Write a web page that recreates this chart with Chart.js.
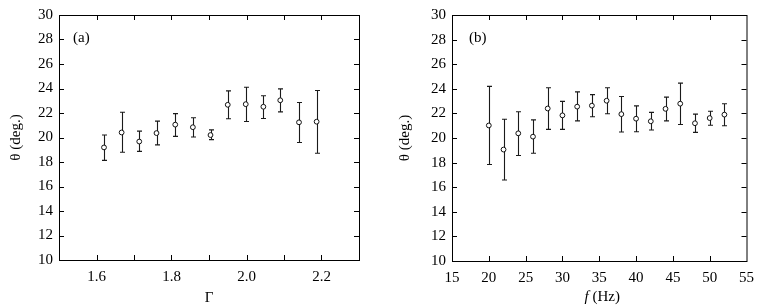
<!DOCTYPE html>
<html>
<head>
<meta charset="utf-8">
<script src="https://cdn.jsdelivr.net/npm/chart.js@4.4.1/dist/chart.umd.min.js"></script>
<style>
  html, body { margin: 0; padding: 0; background: #fff; }
  #wrap { display: flex; width: 762px; height: 307px; }
  .panel { position: relative; width: 381px; height: 307px; }
</style>
</head>
<body>
<div id="wrap">
  <div class="panel"><canvas id="chart-a"></canvas></div>
  <div class="panel"><canvas id="chart-b"></canvas></div>
</div>
<script>
// --- Data ---

// panel (a): angle vs Gamma
const gammaVals = [1.62, 1.667, 1.714, 1.76, 1.81, 1.857, 1.904, 1.95, 1.998, 2.045, 2.09, 2.14, 2.187];
const thetaA    = [19.19, 20.41, 19.67, 20.36, 21.05, 20.84, 20.2, 22.67, 22.72, 22.51, 23.04, 21.24, 21.29];
const thetaAHi  = [20.2, 22.06, 20.52, 21.34, 21.95, 21.61, 20.62, 23.81, 24.1, 23.41, 23.97, 22.86, 23.84];
const thetaALo  = [18.13, 18.79, 18.87, 19.4, 20.09, 20.04, 19.83, 21.53, 21.31, 21.55, 22.09, 19.59, 18.71];

// panel (b): angle vs frequency
const freqVals = [20, 22, 24, 26, 28, 30, 32, 34, 36, 38, 40, 42, 44, 46, 48, 50, 52];
const thetaB   = [21.02, 19.06, 20.38, 20.11, 22.4, 21.84, 22.55, 22.63, 23.03, 21.94, 21.57, 21.36, 22.37, 22.79, 21.2, 21.62, 21.9];
const thetaBHi = [24.2, 21.52, 22.13, 21.47, 24.09, 22.98, 23.75, 23.53, 24.09, 23.37, 22.61, 22.08, 23.32, 24.46, 21.94, 22.18, 22.79];
const thetaBLo = [17.84, 16.59, 18.58, 18.76, 20.7, 20.7, 21.39, 21.73, 21.97, 20.49, 20.51, 20.65, 21.39, 21.1, 20.46, 21.04, 20.99];

// tick labels
const gammaTickLabels = ['1.6', '1.8', '2.0', '2.2'];
const freqTickLabels = ['15', '20', '25', '30', '35', '40', '45', '50', '55'];

const FONT = '"Liberation Serif", "Times New Roman", serif';
const FS = 15;

// error bars, drawn under the markers
const errorBars = {
  id: 'errorBars',
  beforeDatasetsDraw(chart) {
    const { ctx, scales: { x, y } } = chart;
    const ds = chart.data.datasets[0];
    ctx.save();
    ctx.strokeStyle = '#1a1a1a';
    ctx.lineWidth = 1.1;
    ds.data.forEach((p, i) => {
      const px = Math.round(x.getPixelForValue(p.x)) + 0.5;
      const yHi = y.getPixelForValue(ds.errHi[i]);
      const yLo = y.getPixelForValue(ds.errLo[i]);
      ctx.beginPath();
      ctx.moveTo(px, yHi); ctx.lineTo(px, yLo);
      ctx.moveTo(px - 2.5, yHi); ctx.lineTo(px + 2.5, yHi);
      ctx.moveTo(px - 2.5, yLo); ctx.lineTo(px + 2.5, yLo);
      ctx.stroke();
    });
    ctx.restore();
  }
};

// box frame + inward ticks on all four sides + panel tag
const frameTicks = {
  id: 'frameTicks',
  afterDraw(chart, args, opts) {
    const { ctx, chartArea: a, scales: { x, y } } = chart;
    const len = 5;
    ctx.save();
    ctx.strokeStyle = '#000';
    ctx.lineWidth = 1;
    ctx.strokeRect(a.left + 0.5, a.top + 0.5, a.right - a.left, a.bottom - a.top);
    ctx.beginPath();
    x.ticks.forEach(t => {
      if (t.value <= x.min + 1e-6 || t.value >= x.max - 1e-6) return;
      const px = Math.round(x.getPixelForValue(t.value)) + 0.5;
      ctx.moveTo(px, a.bottom); ctx.lineTo(px, a.bottom - len);
      ctx.moveTo(px, a.top); ctx.lineTo(px, a.top + len);
    });
    y.ticks.forEach(t => {
      if (t.value <= y.min + 1e-6 || t.value >= y.max - 1e-6) return;
      const py = Math.round(y.getPixelForValue(t.value)) + 0.5;
      ctx.moveTo(a.left, py); ctx.lineTo(a.left + len, py);
      ctx.moveTo(a.right, py); ctx.lineTo(a.right - len, py);
    });
    ctx.stroke();

    ctx.fillStyle = '#000';
    ctx.textBaseline = 'middle';
    ctx.textAlign = 'left';
    ctx.font = FS + 'px ' + FONT;
    ctx.fillText(opts.tag, a.left + opts.tagDx, a.top + 23);

    // italic-part x title, drawn by hand
    if (opts.xTitleItalic) {
      const cx = (a.left + a.right) / 2 + 3;
      ctx.font = 'italic ' + FS + 'px ' + FONT;
      const w1 = ctx.measureText(opts.xTitleItalic).width;
      ctx.font = FS + 'px ' + FONT;
      const w2 = ctx.measureText(opts.xTitleRest).width;
      const start = cx - (w1 + w2) / 2;
      ctx.font = 'italic ' + FS + 'px ' + FONT;
      ctx.fillText(opts.xTitleItalic, start, 297);
      ctx.font = FS + 'px ' + FONT;
      ctx.fillText(opts.xTitleRest, start + w1, 297);
    }
    ctx.restore();
  }
};

function makeChart(id, cfg) {
  const points = cfg.xs.map((v, i) => ({ x: v, y: cfg.ys[i] }));
  return new Chart(document.getElementById(id), {
    type: 'scatter',
    data: {
      datasets: [{
        data: points,
        errHi: cfg.hi,
        errLo: cfg.lo,
        pointRadius: 2.4,
        pointBorderWidth: 1,
        borderColor: '#111',
        backgroundColor: '#fff',
        showLine: false
      }]
    },
    options: {
      responsive: true,
      maintainAspectRatio: false,
      animation: false,
      events: [],
      layout: { padding: { top: 9, right: cfg.padRight, left: 0, bottom: 0 } },
      plugins: {
        legend: { display: false },
        tooltip: { enabled: false },
        frameTicks: { tag: cfg.tag, tagDx: cfg.tagDx, xTitleItalic: cfg.xTitleItalic, xTitleRest: cfg.xTitleRest }
      },
      scales: {
        x: {
          type: 'linear',
          min: cfg.xMin, max: cfg.xMax,
          grid: { display: false, drawTicks: false },
          border: { display: false },
          ticks: {
            stepSize: cfg.xStep,
            autoSkip: false,
            maxRotation: 0,
            padding: 8,
            color: '#000',
            font: { family: FONT, size: FS },
            callback: cfg.xLabel
          },
          title: {
            display: !!cfg.xTitle,
            text: cfg.xTitle,
            color: '#000',
            font: { family: FONT, size: FS },
            padding: { top: 0, bottom: 0 }
          },
          afterFit: s => { s.height = cfg.xAxisH; }
        },
        y: {
          min: 10, max: 30,
          grid: { display: false, drawTicks: false },
          border: { display: false },
          ticks: {
            stepSize: 2,
            padding: 6,
            color: '#000',
            font: { family: FONT, size: FS }
          },
          title: {
            display: true,
            text: 'θ (deg.)',
            color: '#000',
            font: { family: FONT, size: FS },
            padding: { top: cfg.yTitlePad, bottom: 0 }
          },
          afterFit: s => { s.width = cfg.yAxisW; }
        }
      }
    },
    plugins: [errorBars, frameTicks]
  });
}

makeChart('chart-a', {
  xs: gammaVals, ys: thetaA, hi: thetaAHi, lo: thetaALo,
  xMin: 1.5, xMax: 2.3, xStep: 0.1,
  xLabel: v => {
    const s = v.toFixed(1);
    return gammaTickLabels.includes(s) ? s : '';
  },
  xTitle: 'Γ',
  tag: '(a)', tagDx: 14,
  yAxisW: 59, xAxisH: 47, padRight: 22, yTitlePad: 7
});

makeChart('chart-b', {
  xs: freqVals, ys: thetaB, hi: thetaBHi, lo: thetaBLo,
  xMin: 15, xMax: 55, xStep: 5,
  xLabel: v => {
    const s = String(Math.round(v));
    return freqTickLabels.includes(s) ? s : '';
  },
  xTitle: '',
  xTitleItalic: 'f', xTitleRest: ' (Hz)',
  tag: '(b)', tagDx: 17,
  yAxisW: 71, xAxisH: 46, padRight: 9, yTitlePad: 15.5
});
</script>
</body>
</html>
